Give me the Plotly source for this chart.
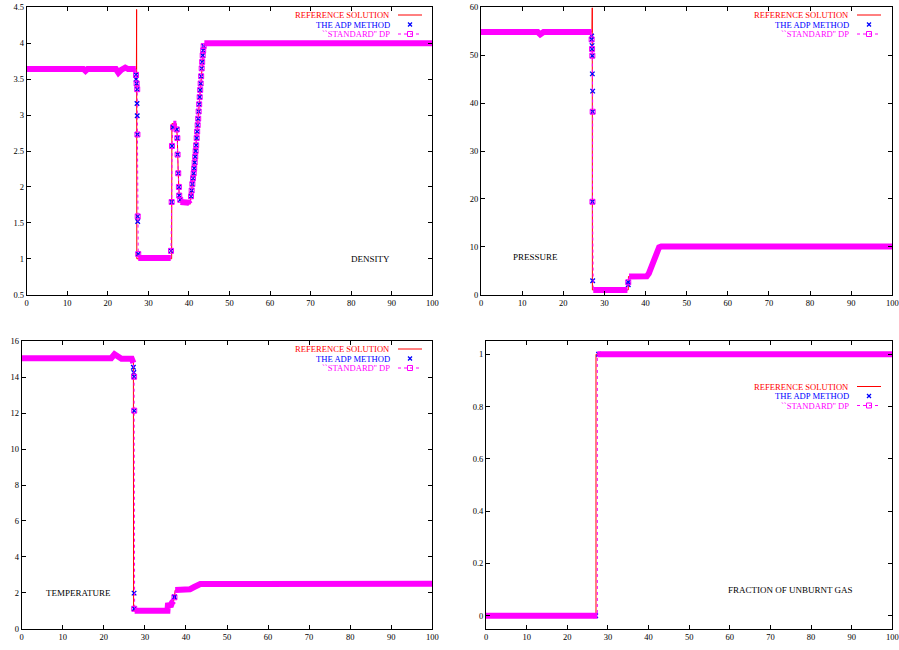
import plotly.graph_objects as go

W, H = 899, 650
FONT = "Liberation Serif"
RED, BLUE, MAG = "#ff0000", "#0000ff", "#ff00ff"

# ======================= DENSITY =======================
rho_ref_x = [0, 14.0, 14.5, 15.0, 22.0, 22.6, 23.3, 24.3, 25.0, 27.05, 27.1, 27.15, 35.74, 35.8,
             36.9, 37.14, 37.36, 37.6, 37.9, 40.0, 40.3, 41.0, 42.0, 43.0, 43.7, 44.2, 100]
rho_ref_y = [3.64, 3.64, 3.615, 3.64, 3.64, 3.59, 3.63, 3.66, 3.64, 3.64, 4.47, 1.0, 1.0, 2.88,
             2.88, 2.68, 2.19, 1.88, 1.80, 1.78, 1.76, 2.12, 2.77, 3.54, 3.98, 4.0, 4.0]

rho_left_x = [0, 14.0, 14.5, 15.0, 22.0, 22.6, 23.3, 24.3, 25.0, 26.9]
rho_left_y = [3.64, 3.64, 3.615, 3.64, 3.64, 3.59, 3.63, 3.66, 3.64, 3.64]
rho_shock_x = [26.95, 27.1, 27.25, 27.3, 27.37, 27.5]
rho_shock_y = [3.56, 3.44, 3.36, 2.73, 1.59, 1.065]
rho_low_x = [27.5, 35.5]
rho_low_y = [1.01, 1.01]
rho_up_x = [35.58, 35.74, 35.82, 36.07]
rho_up_y = [1.11, 1.79, 2.57, 2.83]
rho_peak_x = [36.15, 36.9]
rho_peak_y = [2.88, 2.88]
rho_down_x = [37.0, 37.14, 37.2, 37.36, 37.53, 37.6, 37.85]
rho_down_y = [2.80, 2.68, 2.45, 2.19, 2.00, 1.88, 1.82]
rho_flat_x = [37.9, 39.5, 40.0, 40.3]
rho_flat_y = [1.79, 1.79, 1.78, 1.76]
rho_rise_x = [40.51, 40.67, 40.84, 41.00, 41.17, 41.29, 41.41, 41.54, 41.66, 41.78, 41.91, 42.03,
              42.15, 42.28, 42.40, 42.52, 42.65, 42.77, 42.89, 43.01, 43.14, 43.26, 43.39, 43.51, 43.63]
rho_rise_y = [1.87, 1.95, 2.04, 2.12, 2.19, 2.26, 2.34, 2.42, 2.50, 2.58, 2.68, 2.77,
              2.86, 2.95, 3.05, 3.15, 3.25, 3.35, 3.44, 3.54, 3.65, 3.74, 3.83, 3.90, 3.96]
rho_right_x = [43.8, 100]
rho_right_y = [4.0, 4.0]
rho_adp_shock_x = [26.95, 27.2, 27.25, 27.37]
rho_adp_shock_y = [3.50, 3.16, 2.99, 1.52]

# ======================= PRESSURE =======================
p_ref_x = [0, 13.8, 14.4, 15.2, 27.0, 27.05, 27.08, 35.8, 35.85, 40.3, 40.8, 41.3, 41.8, 42.3, 42.8, 43.3, 43.8, 100]
p_ref_y = [54.85, 54.85, 54.35, 54.85, 54.85, 59.9, 1.0, 1.0, 3.8, 3.85, 4.4, 5.5, 6.9, 8.2, 9.3, 9.9, 10.05, 10.05]

p_left_x = [0, 13.8, 14.4, 15.2, 26.9]
p_left_y = [54.85, 54.85, 54.35, 54.85, 54.85]
p_shock_x = [26.9, 27.0, 27.07, 27.15, 27.1]
p_shock_y = [53.3, 51.3, 49.9, 38.2, 19.4]
p_low_x = [27.3, 35.6]
p_low_y = [1.0, 1.0]
p_step_x = [35.8]
p_step_y = [2.6]
p_plat_x = [36.0, 40.3, 40.8, 41.3, 41.8, 42.3, 42.8, 43.3, 43.8, 100]
p_plat_y = [3.8, 3.85, 4.4, 5.5, 6.9, 8.2, 9.3, 9.9, 10.05, 10.05]
p_adp_shock_x = [26.9, 27.0, 27.07, 27.15, 27.15, 35.8]
p_adp_shock_y = [54.0, 52.0, 46.1, 42.5, 2.9, 2.1]

# ======================= TEMPERATURE =======================
t_ref_x = [0, 13.8, 14.3, 15.0, 21.8, 22.6, 23.4, 24.3, 26.8, 27.2, 27.25, 35.5, 35.6, 36.4, 36.6, 37.0, 37.2, 37.4,
           40.5, 41.0, 42.0, 42.8, 43.5, 100]
t_ref_y = [15.06, 15.06, 15.0, 15.05, 15.06, 15.28, 15.2, 15.03, 15.03, 14.85, 1.0, 1.0, 1.3, 1.32, 1.45, 1.55, 1.8, 2.15,
           2.15, 2.2, 2.32, 2.42, 2.49, 2.5]

t_left_x = [0, 13.8, 14.3, 15.0, 21.8, 22.6, 23.4, 24.3, 26.8, 27.2]
t_left_y = [15.06, 15.06, 15.0, 15.05, 15.06, 15.28, 15.2, 15.03, 15.03, 14.8]
t_shock_x = [27.37, 27.4, 27.4]
t_shock_y = [14.03, 12.14, 1.11]
t_low_x = [27.5, 35.5, 35.6, 36.4, 36.6, 37.0]
t_low_y = [1.0, 1.0, 1.3, 1.32, 1.45, 1.55]
t_jump_x = [37.2]
t_jump_y = [1.75]
t_high_x = [37.4, 40.5, 41.0, 42.0, 42.8, 43.5, 100]
t_high_y = [2.15, 2.15, 2.2, 2.32, 2.42, 2.49, 2.5]
t_adp_shock_x = [27.2, 27.3, 27.37, 37.2]
t_adp_shock_y = [14.55, 14.26, 1.98, 1.78]

# ======================= FRACTION OF UNBURNT GAS =======================
f_ref_x = [0, 27.07, 27.07, 100]
f_ref_y = [0, 0, 1, 1]
f_burnt_x = [0, 27.4]
f_burnt_y = [0, 0]
f_unburnt_x = [27.4, 100]
f_unburnt_y = [1, 1]
f_adp_x = [27.0, 27.7]
f_adp_y = [0, 1]

# ---------------------------------------------------------------
x_ticks = [0, 10, 20, 30, 40, 50, 60, 70, 80, 90, 100]

fig = go.Figure()


def add_panel(xa, ya, ref, adp, pieces):
    fig.add_trace(go.Scatter(x=ref[0], y=ref[1], mode="lines", xaxis=xa, yaxis=ya,
                             line=dict(color=RED, width=1), showlegend=False,
                             name="REFERENCE SOLUTION", hoverinfo="skip"))
    ax, ay = list(adp[0]), list(adp[1])
    for kind, xs, ys in pieces:
        if kind == "pts":
            ax += xs
            ay += ys
    fig.add_trace(go.Scatter(x=ax, y=ay, mode="markers", xaxis=xa, yaxis=ya,
                             marker=dict(symbol="x-thin", size=4.5, line=dict(color=BLUE, width=1.4)),
                             showlegend=False, name="THE ADP METHOD", hoverinfo="skip"))
    all_x, all_y, bx, by, qx, qy = [], [], [], [], [], []
    for kind, xs, ys in pieces:
        all_x += xs
        all_y += ys
        if kind == "band":
            bx += xs + [None]
            by += ys + [None]
        else:
            qx += xs
            qy += ys
    fig.add_trace(go.Scatter(x=all_x, y=all_y, mode="lines", xaxis=xa, yaxis=ya,
                             line=dict(color=MAG, width=1, dash="dot"), showlegend=False,
                             hoverinfo="skip"))
    fig.add_trace(go.Scatter(x=bx, y=by, mode="lines", xaxis=xa, yaxis=ya,
                             line=dict(color=MAG, width=6), showlegend=False, hoverinfo="skip"))
    fig.add_trace(go.Scatter(x=qx, y=qy, mode="markers", xaxis=xa, yaxis=ya,
                             marker=dict(symbol="square-open", size=5, color=MAG, line=dict(width=1)),
                             showlegend=False, name="``STANDARD'' DP", hoverinfo="skip"))


add_panel("x", "y", (rho_ref_x, rho_ref_y), (rho_adp_shock_x, rho_adp_shock_y), [
    ("band", rho_left_x, rho_left_y), ("pts", rho_shock_x, rho_shock_y),
    ("band", rho_low_x, rho_low_y), ("pts", rho_up_x, rho_up_y),
    ("band", rho_peak_x, rho_peak_y), ("pts", rho_down_x, rho_down_y),
    ("band", rho_flat_x, rho_flat_y), ("pts", rho_rise_x, rho_rise_y),
    ("band", rho_right_x, rho_right_y)])
add_panel("x2", "y2", (p_ref_x, p_ref_y), (p_adp_shock_x, p_adp_shock_y), [
    ("band", p_left_x, p_left_y), ("pts", p_shock_x, p_shock_y),
    ("band", p_low_x, p_low_y), ("pts", p_step_x, p_step_y),
    ("band", p_plat_x, p_plat_y)])
add_panel("x3", "y3", (t_ref_x, t_ref_y), (t_adp_shock_x, t_adp_shock_y), [
    ("band", t_left_x, t_left_y), ("pts", t_shock_x, t_shock_y),
    ("band", t_low_x, t_low_y), ("pts", t_jump_x, t_jump_y),
    ("band", t_high_x, t_high_y)])
add_panel("x4", "y4", (f_ref_x, f_ref_y), (f_adp_x, f_adp_y), [
    ("band", f_burnt_x, f_burnt_y), ("band", f_unburnt_x, f_unburnt_y)])


def px(x):
    return x / W


def py(y):
    return 1 - y / H


def xdom(l, r):
    return [px(l), px(r)]


def ydom(t, b):
    return [py(b), py(t)]


def ax_style(dom, rng, anchor, **kw):
    d = dict(domain=dom, range=rng, anchor=anchor, showline=True, linecolor="black", linewidth=1,
             mirror="ticks", ticks="inside", ticklen=4, tickcolor="black", tickwidth=1,
             showgrid=False, zeroline=False, fixedrange=True,
             tickfont=dict(family=FONT, size=8.5, color="black"))
    d.update(kw)
    return d


fig.update_layout(
    width=W, height=H, margin=dict(l=0, r=0, t=0, b=0, autoexpand=False),
    paper_bgcolor="white", plot_bgcolor="white", showlegend=False,
    font=dict(family=FONT, size=9, color="black"),
    xaxis=ax_style(xdom(26.7, 432.3), [0, 100], "y", tickvals=x_ticks),
    yaxis=ax_style(ydom(7.3, 294.7), [0.5, 4.5], "x", tick0=0.5, dtick=0.5),
    xaxis2=ax_style(xdom(481, 892.3), [0, 100], "y2", tickvals=x_ticks),
    yaxis2=ax_style(ydom(7.3, 294.7), [0, 60], "x2", dtick=10),
    xaxis3=ax_style(xdom(21.7, 432.3), [0, 100], "y3", tickvals=x_ticks),
    yaxis3=ax_style(ydom(341.3, 628.7), [0, 16], "x3", dtick=2),
    xaxis4=ax_style(xdom(486, 892.3), [0, 100], "y4", tickvals=x_ticks),
    yaxis4=ax_style(ydom(341.3, 628.7), [-0.05, 1.05], "x4", tick0=0, dtick=0.2),
)

# ---- gnuplot-style legends (text left, sample right) and panel labels ----
legend_names = ["REFERENCE SOLUTION", "THE ADP METHOD", "``STANDARD'' DP"]
legend_colors = [RED, BLUE, MAG]
LEG_FS = 8.6
legend_boxes = [  # (text right edge, sample x0, sample x1, marker x, row y's) in pixels
    (391, 398, 422, 410, [15.0, 24.5, 34.0]),
    (850, 857, 881, 869, [15.0, 24.5, 34.0]),
    (391, 398, 422, 410, [349.0, 358.5, 368.0]),
    (850, 857, 881, 869, [386.5, 396.0, 405.5]),
]
annotations = []
shapes = []

for tr, s0, s1, mx, rows in legend_boxes:
    for name, col, yy in zip(legend_names, legend_colors, rows):
        annotations.append(dict(text=name, x=px(tr), y=py(yy), xref="paper", yref="paper",
                                xanchor="right", yanchor="middle", showarrow=False, borderpad=0,
                                font=dict(family=FONT, size=LEG_FS, color=col)))
    shapes.append(dict(type="line", xref="paper", yref="paper", x0=px(s0), x1=px(s1),
                       y0=py(rows[0]), y1=py(rows[0]), line=dict(color=RED, width=1)))
    d = 2
    shapes.append(dict(type="line", xref="paper", yref="paper", x0=px(mx - d), x1=px(mx + d),
                       y0=py(rows[1] - d), y1=py(rows[1] + d), line=dict(color=BLUE, width=1.3)))
    shapes.append(dict(type="line", xref="paper", yref="paper", x0=px(mx - d), x1=px(mx + d),
                       y0=py(rows[1] + d), y1=py(rows[1] - d), line=dict(color=BLUE, width=1.3)))
    shapes.append(dict(type="line", xref="paper", yref="paper", x0=px(s0), x1=px(s1),
                       y0=py(rows[2]), y1=py(rows[2]), line=dict(color=MAG, width=1, dash="dot")))
    shapes.append(dict(type="rect", xref="paper", yref="paper", x0=px(mx - 2.5), x1=px(mx + 2.5),
                       y0=py(rows[2] - 2.5), y1=py(rows[2] + 2.5), line=dict(color=MAG, width=1),
                       fillcolor="rgba(0,0,0,0)"))

panel_labels = [("DENSITY", 370, 259), ("PRESSURE", 535.5, 257),
                ("TEMPERATURE", 78, 593), ("FRACTION OF UNBURNT GAS", 790, 590)]
for txt, xx, yy in panel_labels:
    annotations.append(dict(text=txt, x=px(xx), y=py(yy), xref="paper", yref="paper",
                            xanchor="center", yanchor="middle", showarrow=False, borderpad=0,
                            font=dict(family=FONT, size=9, color="black")))

fig.update_layout(annotations=annotations, shapes=shapes)
# remove the browser's default 8px body margin so the 899x650 figure fills the window exactly
fig.write_html("out.html", config={"displayModeBar": False, "staticPlot": True},
               post_script="document.body.style.margin='0px';document.body.style.overflow='hidden';")
